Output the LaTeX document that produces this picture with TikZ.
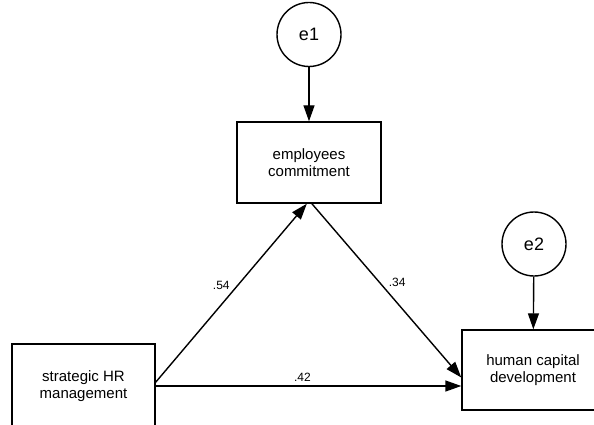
\documentclass[tikz,border=0pt]{standalone}
\usepackage{fontspec}
\setmainfont{Liberation Sans}
\usetikzlibrary{arrows.meta,calc}
\tikzset{
  obs/.style={draw, line width=1.4pt, rectangle, inner sep=0pt, align=center,
    font=\fontsize{15}{17.5}\selectfont},
  err/.style={draw, line width=1.4pt, circle, inner sep=0pt, minimum size=64pt,
    font=\fontsize{18}{20}\selectfont},
  path/.style={draw, line width=1.4pt, -{Triangle[length=16pt,width=11pt]}},
  coef/.style={font=\fontsize{12}{13}\selectfont, inner sep=1pt}
}
\begin{document}
\begin{tikzpicture}[x=1pt,y=-1pt]
\useasboundingbox (0,0) rectangle (594,425);
\clip (0,0) rectangle (594,425);
\node[err] (e1) at (309,34.5) {e1};
\node[obs, minimum width=144pt, minimum height=81pt] (ec) at (309,162.5) {employees\\commitment};
\node[err] (e2) at (534,244) {e2};
\node[obs, minimum width=142pt, minimum height=80pt] (hcd) at (533,370) {human capital\\development};
\node[obs, minimum width=143pt, minimum height=84pt] (shr) at (83.5,386) {strategic HR\\management};
\draw[path] (e1) -- (ec);
\draw[path] (e2) -- (hcd);
\draw[path] (shr.3) -- node[coef, pos=0.54, left=6pt] {.54} (ec.267);
\draw[path] (ec.274) -- node[coef, pos=0.45, right=8pt] {.34} (hcd.186);
\draw[path] (shr.east) -- node[coef, pos=0.48, above=3pt] {.42} (shr.east -| hcd.west);
\end{tikzpicture}
\end{document}
